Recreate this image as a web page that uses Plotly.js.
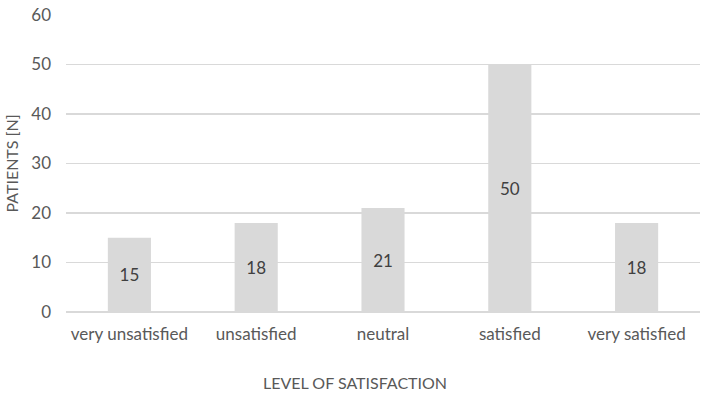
<!DOCTYPE html>
<html><head><meta charset="utf-8">
<script src="https://cdn.plot.ly/plotly-3.0.1.min.js"></script>
<style>body{margin:0;padding:0;background:#fff}#chart{width:710px;height:404px}</style>
</head><body><div id="chart"></div>
<script>
const categories = ["very unsatisfied", "unsatisfied", "neutral", "satisfied", "very satisfied"];
const patients = [15, 18, 21, 50, 18];
const yTicks = [0, 10, 20, 30, 40, 50, 60];

const font = "Lato, 'Open Sans', sans-serif";
Plotly.newPlot("chart", [{
  type: "bar",
  x: categories,
  y: patients,
  width: 0.34,
  marker: {color: "#d9d9d9"},
  text: patients.map(String),
  textposition: "inside",
  insidetextanchor: "middle",
  textfont: {family: font, size: 17, color: "#404040"},
  hoverinfo: "none"
}], {
  width: 710, height: 404,
  margin: {l: 66, r: 10, t: 15, b: 92},
  paper_bgcolor: "#fff", plot_bgcolor: "#fff",
  showlegend: false,
  xaxis: {
    tickfont: {family: font, size: 17, color: "#595959"},
    showgrid: false, zeroline: false, showline: false, ticks: "",
    ticklabelstandoff: 10
  },
  yaxis: {
    range: [0, 60], tickvals: yTicks, showgrid: true, gridcolor: "#d9d9d9", gridwidth: 1.5,
    zeroline: true, zerolinecolor: "#d9d9d9", zerolinewidth: 1.5,
    tickfont: {family: font, size: 17, color: "#595959"}, ticks: "", ticklen: 0,
    ticklabelstandoff: 14,
    title: {text: "PATIENTS [N]", font: {family: font, size: 16, color: "#595959"}, standoff: 8}
  },
  annotations: [{
    text: "LEVEL OF SATISFACTION", xref: "paper", yref: "paper",
    x: 0.456, y: -0.239, xanchor: "center", yanchor: "middle", showarrow: false,
    font: {family: font, size: 16, color: "#595959"}
  }]
}, {displayModeBar: false, staticPlot: true});
</script></body></html>
